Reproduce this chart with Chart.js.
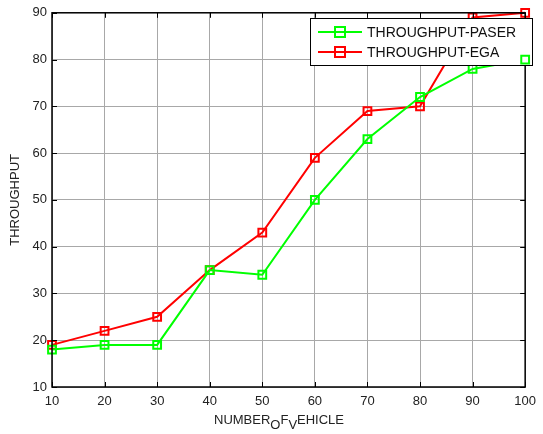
<!DOCTYPE html>
<html><head><meta charset="utf-8">
<script src="https://cdn.jsdelivr.net/npm/chart.js@4/dist/chart.umd.min.js"></script>
<style>html,body{margin:0;padding:0;background:#fff}#wrap{width:543px;height:434px}</style>
</head><body><div id="wrap"><canvas id="c" width="543" height="434"></canvas></div>
<script>
const vehicles = [10,20,30,40,50,60,70,80,90,100];
const paser = [18,19,19,35,34,50,63,72,78,80];
const ega = [19,22,25,35,43,59,69,70,89,90];
const yTicks = [10,20,30,40,50,60,70,80,90];
const seriesNames = ['THROUGHPUT-PASER','THROUGHPUT-EGA'];
const FONT = '"Liberation Sans", Arial, sans-serif';

const boxPlugin = {
  id:'box',
  afterDraw(chart){
    const {ctx, chartArea:a, scales:{x,y}} = chart;
    ctx.save();
    ctx.strokeStyle='#000'; ctx.lineWidth=1.5;
    ctx.strokeRect(a.left, a.top, a.right-a.left, a.bottom-a.top);
    ctx.lineWidth=1;
    ctx.beginPath();
    vehicles.forEach(v=>{const px=Math.round(x.getPixelForValue(v))+0.5;
      ctx.moveTo(px,a.bottom); ctx.lineTo(px,a.bottom-5);
      ctx.moveTo(px,a.top); ctx.lineTo(px,a.top+5);});
    yTicks.forEach(v=>{const py=Math.round(y.getPixelForValue(v))+0.5;
      ctx.moveTo(a.left,py); ctx.lineTo(a.left+5,py);
      ctx.moveTo(a.right,py); ctx.lineTo(a.right-5,py);});
    ctx.stroke();
    // x title with subscripts
    ctx.fillStyle='#222';
    ctx.textBaseline='alphabetic';
    const parts=[['NUMBER',0],['O',1],['F',0],['V',1],['EHICLE',0]];
    const f='13px '+FONT;
    ctx.font=f;
    let w=0; parts.forEach(p=>{w+=ctx.measureText(p[0]).width;});
    let cx=279 - w/2; const base=424;
    parts.forEach(p=>{ctx.fillText(p[0],cx,base+(p[1]?5:0)); cx+=ctx.measureText(p[0]).width;});
    // legend
    const lx=310, ly=18, lw=222, lh=47;
    ctx.fillStyle='#fff'; ctx.fillRect(lx,ly,lw,lh);
    ctx.strokeStyle='#000'; ctx.lineWidth=1; ctx.strokeRect(lx+0.5,ly+0.5,lw,lh);
    chart.data.datasets.forEach((ds,i)=>{
      const yy=ly+14+i*20;
      ctx.strokeStyle=ds.borderColor; ctx.lineWidth=2;
      ctx.beginPath(); ctx.moveTo(318,yy); ctx.lineTo(362,yy); ctx.stroke();
      ctx.strokeRect(335,yy-5,10,10);
      ctx.fillStyle='#111'; ctx.font='14px '+FONT; ctx.textBaseline='middle';
      ctx.fillText(ds.label,367,yy+1);
    });
    // markers at the right edge sit on top of the legend
    chart.data.datasets.forEach((ds,i)=>{
      const meta=chart.getDatasetMeta(i);
      const last=meta.data[meta.data.length-1];
      if(last && last.y>ly && last.y<ly+lh+6) last.draw(ctx);
    });
    ctx.restore();
  }
};

new Chart(document.getElementById('c'),{
  type:'line',
  data:{labels:vehicles,datasets:[
    {label:seriesNames[0],data:vehicles.map((v,i)=>({x:v,y:paser[i]})),borderColor:'#00ff00',backgroundColor:'rgba(0,0,0,0)',borderWidth:2,pointStyle:'rect',pointRadius:5.5,pointBorderWidth:2,pointBackgroundColor:'rgba(0,0,0,0)',tension:0,clip:false},
    {label:seriesNames[1],data:vehicles.map((v,i)=>({x:v,y:ega[i]})),borderColor:'#ff0000',backgroundColor:'rgba(0,0,0,0)',borderWidth:2,pointStyle:'rect',pointRadius:5.5,pointBorderWidth:2,pointBackgroundColor:'rgba(0,0,0,0)',tension:0,clip:false}
  ]},
  options:{
    responsive:false,animation:false,
    layout:{padding:{left:0,top:11,right:13,bottom:0}},
    plugins:{legend:{display:false},tooltip:{enabled:false}},
    scales:{
      x:{type:'linear',min:10,max:100,
        afterBuildTicks(s){s.ticks=vehicles.map(v=>({value:v}));},
        afterFit(s){s.height=47;},
        grid:{color:'#a8a8a8',lineWidth:1,drawTicks:false},
        border:{display:false},
        ticks:{color:'#222',font:{family:FONT,size:13},padding:7,maxRotation:0,autoSkip:false}
      },
      y:{min:10,max:90,
        afterBuildTicks(s){s.ticks=yTicks.map(v=>({value:v}));},
        afterFit(s){s.width=52;},
        grid:{color:'#a8a8a8',lineWidth:1,drawTicks:false},
        border:{display:false},
        title:{display:true,text:'THROUGHPUT',color:'#222',font:{family:FONT,size:13},padding:{top:8,bottom:4}},
        ticks:{color:'#222',font:{family:FONT,size:13},padding:5}
      }
    }
  },
  plugins:[boxPlugin]
});
</script></body></html>
